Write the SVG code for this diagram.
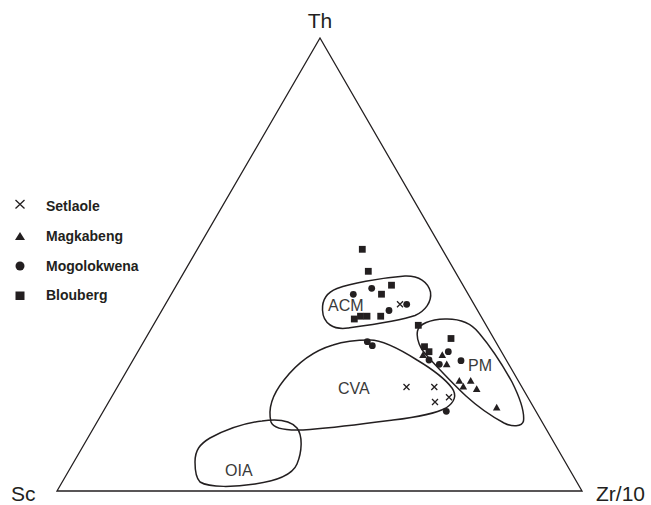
<svg xmlns="http://www.w3.org/2000/svg" width="651" height="505" viewBox="0 0 651 505">
<style>
.ax{fill:none;stroke:#231f20;stroke-width:1.3}
.fld{fill:none;stroke:#231f20;stroke-width:1.5}
.lab{font-family:"Liberation Sans",Arial,sans-serif;fill:#231f20}
.fl{font-family:"Liberation Sans",Arial,sans-serif;fill:#3a3a3a;font-size:16px}
.lg{font-family:"Liberation Sans",Arial,sans-serif;font-weight:bold;font-size:14px;fill:#231f20}
.x{stroke:#231f20;stroke-width:1.3;fill:none}
.k{fill:#231f20}
</style>
<defs>
<g id="sq"><rect x="-3.4" y="-3.4" width="6.8" height="6.8" class="k"/></g>
<g id="ci"><circle r="3.4" class="k"/></g>
<g id="tr"><polygon points="0,-3.8 3.8,3 -3.8,3" class="k"/></g>
<g id="xx"><path d="M-3,-3L3,3M-3,3L3,-3" class="x"/></g>
</defs>
<rect width="651" height="505" fill="#fff"/>
<g id="axes">
<polygon points="320,38 582,491 57,491" class="ax"/>
<text class="lab" x="320" y="28" font-size="21" text-anchor="middle">Th</text>
<text class="lab" x="11" y="501" font-size="21">Sc</text>
<text class="lab" x="596" y="501" font-size="21">Zr/10</text>
</g>
<g id="legend">
<path d="M15.5,200L24.5,208.5M15.5,208.5L24.5,200" class="x"/>
<text class="lg" x="46" y="211">Setlaole</text>
<polygon points="20,232 25,240 15,240" class="k"/>
<text class="lg" x="46" y="241">Magkabeng</text>
<circle cx="20" cy="266" r="4.5" class="k"/>
<text class="lg" x="46" y="271">Mogolokwena</text>
<rect x="15.5" y="291.5" width="9" height="8.5" class="k"/>
<text class="lg" x="46" y="300">Blouberg</text>
</g>
<g id="fields">
<g id="ACM">
<path class="fld" d="M322.5,310 C322,299 328,292 337,288.5 C350,284 378,278 405,276 C419,275.5 428,282 430.5,292 C432,302 425,311 415,315.5 C400,321 370,325 348,328 C334,330 323,324 322.5,310 Z"/>
<text class="fl" x="328" y="311">ACM</text>
</g>
<g id="PM">
<path class="fld" d="M417.5,331 C419,324 430,319.5 445,319 C460,318.5 472,324 479,333 C490,346 502,364 512,382 C520,398 524.5,413 523.5,421 C522,427 512,427 504,423 C491,416 478,407 466,396 C452,383 440,370 428,357 C420,349 416,339 417.5,331 Z"/>
<text class="fl" x="468" y="371">PM</text>
</g>
<g id="CVA">
<path class="fld" d="M370,340 C380,340 398,348 417,360 C432,369 446,380 452,388 C457,395 455,402 446,408 C435,414 410,418 393,420 C370,423 340,427 310,429.5 C290,431 274,430 271,422 C268,410 272,395 284,380 C298,362 316,350 333,345 C345,341 360,340 370,340 Z"/>
<text class="fl" x="338" y="394">CVA</text>
</g>
<g id="OIA">
<path class="fld" d="M195,462 C195,450 200,444 210,438 C225,430 245,423 262,421 C276,419 290,420 297,428 C303,436 302,452 297,464 C292,476 275,481 255,484 C235,487 210,488 200,482 C196,478 195,470 195,462 Z"/>
<text class="fl" x="225" y="476">OIA</text>
</g>
</g>
<g id="points">
<use href="#sq" x="362.3" y="249.3"/>
<use href="#sq" x="368.3" y="271.3"/>
<use href="#sq" x="391.5" y="285.2"/>
<use href="#sq" x="381.5" y="294.2"/>
<use href="#sq" x="354.3" y="319"/>
<use href="#sq" x="360.5" y="316.2"/>
<use href="#sq" x="367" y="316.2"/>
<use href="#sq" x="380.7" y="316.2"/>
<use href="#sq" x="418.3" y="325.3"/>
<use href="#sq" x="451" y="338.5"/>
<use href="#sq" x="424.5" y="346.7"/>
<use href="#sq" x="429" y="351.7"/>
<use href="#ci" x="353.3" y="294.3"/>
<use href="#ci" x="371.7" y="288.3"/>
<use href="#ci" x="389" y="310.5"/>
<use href="#ci" x="406.7" y="304.3"/>
<use href="#ci" x="367.3" y="341.7"/>
<use href="#ci" x="372.3" y="345.7"/>
<use href="#ci" x="448.3" y="351.7"/>
<use href="#ci" x="429" y="360"/>
<use href="#ci" x="439.3" y="364.3"/>
<use href="#ci" x="461" y="360.7"/>
<use href="#ci" x="446.3" y="411.3"/>
<use href="#tr" x="442.3" y="355"/>
<use href="#tr" x="423" y="355"/>
<use href="#tr" x="446.7" y="364.3"/>
<use href="#tr" x="459.3" y="380.7"/>
<use href="#tr" x="470.7" y="380.7"/>
<use href="#tr" x="463.3" y="386.5"/>
<use href="#tr" x="476.7" y="389"/>
<use href="#tr" x="496.7" y="407.5"/>
<use href="#xx" x="400" y="304.3"/>
<use href="#xx" x="406.5" y="387"/>
<use href="#xx" x="434.3" y="387"/>
<use href="#xx" x="435" y="402"/>
<use href="#xx" x="449" y="397.3"/>
</g>
</svg>
